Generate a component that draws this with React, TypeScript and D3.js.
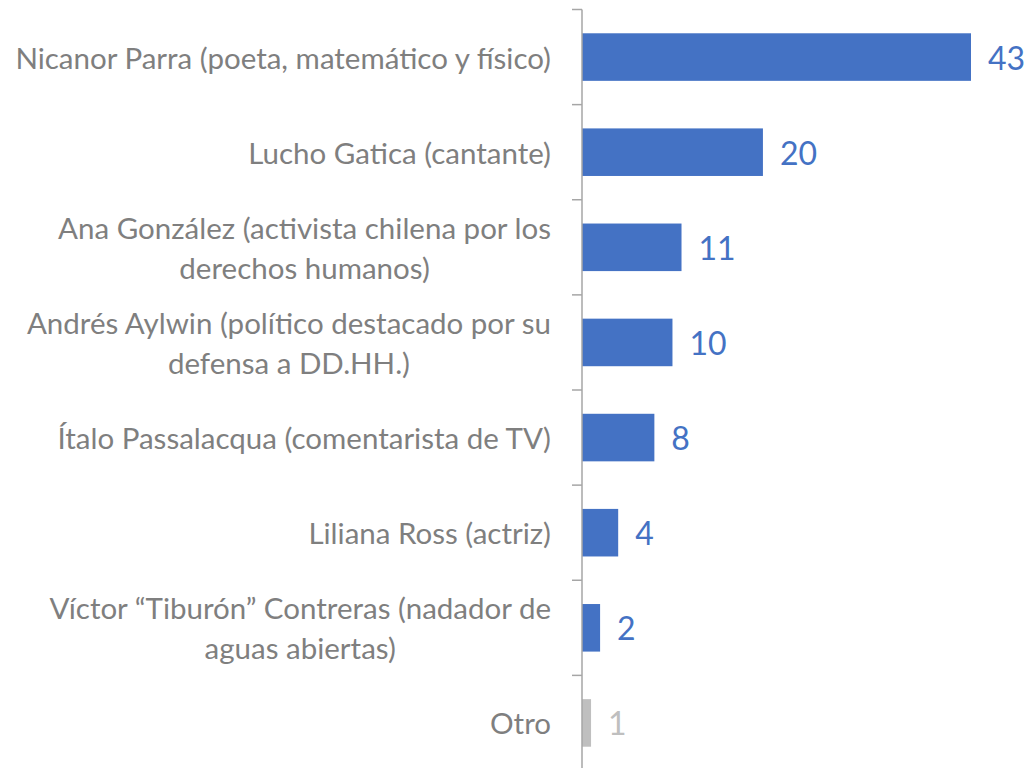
import React from 'react';
import * as d3 from 'd3';

const width = 1030;
const height = 768;

const categories = [
  'Nicanor Parra (poeta, matemático y físico)',
  'Lucho Gatica (cantante)',
  'Ana González (activista chilena por los\nderechos humanos)',
  'Andrés Aylwin (político destacado por su\ndefensa a DD.HH.)',
  'Ítalo Passalacqua (comentarista de TV)',
  'Liliana Ross (actriz)',
  'Víctor “Tiburón” Contreras (nadador de\naguas abiertas)',
  'Otro',
];
const values = [43, 20, 11, 10, 8, 4, 2, 1];
const colors = ['#4472C4', '#4472C4', '#4472C4', '#4472C4', '#4472C4', '#4472C4', '#4472C4', '#BFBFBF'];

const font = 'Lato, "Open Sans", sans-serif';
const labelSize = 29.5;

export default function App() {
  const y = d3.scaleBand<string>().domain(categories).range([9.5, 770.5]).paddingInner(0.5).paddingOuter(0.25);
  const x = d3.scaleLinear().domain([0, 43]).range([582, 971]);
  const step = y.step();
  const top = 9.5;
  const ticks = d3.range(categories.length + 1).map(i => top + i * step);

  return (
    <svg width={width} height={height} style={{ position: 'absolute', left: 0, top: 0 }}>
      {categories.map((c, i) => {
        const y0 = y(c)!;
        const lines = c.split('\n');
        const cy = y0 + y.bandwidth() / 2;
        const lh = 40;
        return (
          <g key={c}>
            <rect x={x(0)} y={y0} width={x(values[i]) - x(0)} height={y.bandwidth()} fill={colors[i]} />
            {lines.length === 1 ? (
              <text x={551} y={cy} textAnchor="end" dominantBaseline="central" fill="#7F7F7F" fontFamily={font} fontSize={labelSize}>
                {c}
              </text>
            ) : (
              lines.map((l, j) => (
                <text key={j} className="lbl" x={300} y={cy + (j - (lines.length - 1) / 2) * lh}
                  textAnchor="middle" dominantBaseline="central" fill="#7F7F7F" fontFamily={font} fontSize={labelSize}
                  ref={el => {
                    // centre the lines on the first (widest) line, right edge at 551
                    if (!el || j !== 0) return;
                    const cx = 551 - el.getComputedTextLength() / 2;
                    const g = el.parentNode as SVGGElement;
                    g.querySelectorAll('text.lbl').forEach(t => t.setAttribute('x', String(cx)));
                  }}>
                  {l}
                </text>
              ))
            )}
            <text x={x(values[i]) + 17} y={cy} dominantBaseline="central" fill={colors[i]} fontFamily={font} fontSize={32}>
              {values[i]}
            </text>
          </g>
        );
      })}
      <line x1={582} x2={582} y1={top} y2={height} stroke="#A6A6A6" strokeWidth={1.5} />
      {ticks.map(t => (
        <line key={t} x1={572} x2={582} y1={t} y2={t} stroke="#A6A6A6" strokeWidth={1.5} />
      ))}
    </svg>
  );
}
